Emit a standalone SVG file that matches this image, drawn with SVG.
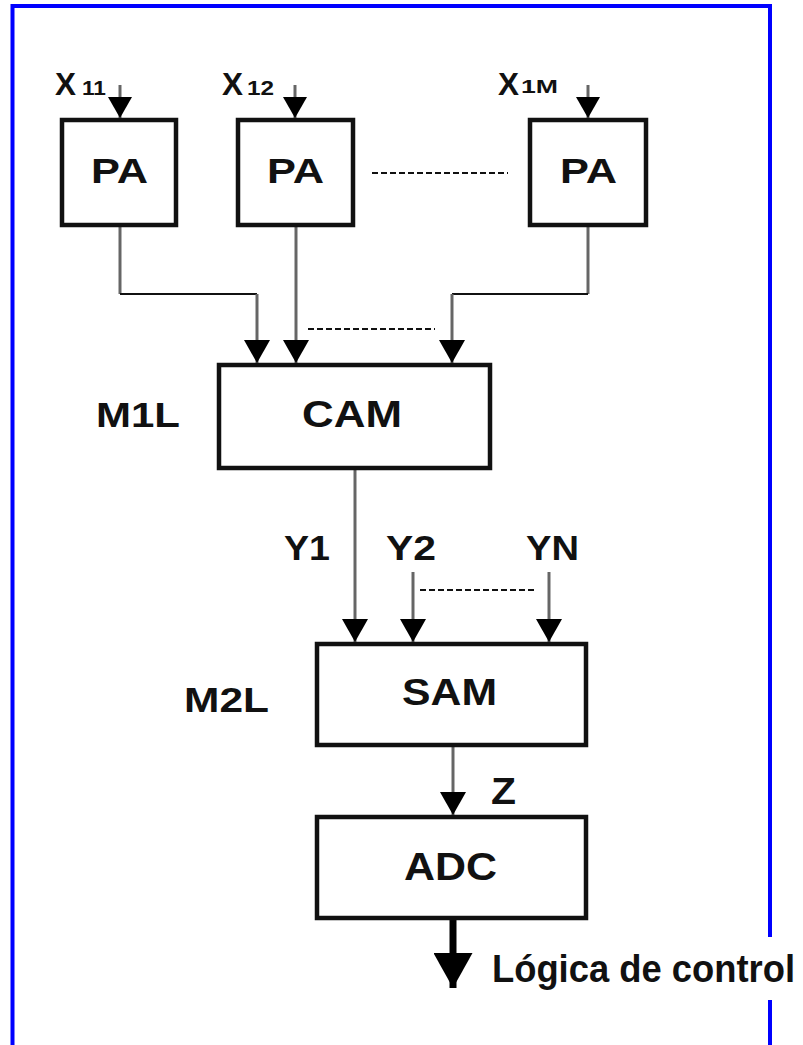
<svg xmlns="http://www.w3.org/2000/svg" width="803" height="1045" viewBox="0 0 803 1045">
  <style>
    .frame { fill: none; stroke: #0000ff; stroke-width: 4; }
    .box { fill: #ffffff; stroke: #111111; stroke-width: 4.5; }
    .lbl { font-family: "Liberation Sans", Arial, sans-serif; font-weight: bold; fill: #111111; }
    .wire { fill: none; stroke: #666666; stroke-width: 3; }
    .hwire { fill: none; stroke: #111111; stroke-width: 2; }
    .dots { fill: none; stroke: #111111; stroke-width: 2; stroke-dasharray: 6 3; }
    .thick { fill: none; stroke: #000000; stroke-width: 7; }
  </style>
  <defs>
    <marker id="head" viewBox="0 0 23 26" refX="23" refY="13" markerWidth="23" markerHeight="26" markerUnits="userSpaceOnUse" orient="auto">
      <path d="M0,0 L23,13 L0,26 z" fill="#000000"/>
    </marker>
    <marker id="headSm" viewBox="0 0 21 24" refX="21" refY="12" markerWidth="21" markerHeight="24" markerUnits="userSpaceOnUse" orient="auto">
      <path d="M0,0 L21,12 L0,24 z" fill="#000000"/>
    </marker>
    <marker id="headBig" viewBox="0 0 35 39" refX="35" refY="19.5" markerWidth="35" markerHeight="39" markerUnits="userSpaceOnUse" orient="auto">
      <path d="M0,0 L35,19.5 L0,39 z" fill="#000000"/>
    </marker>
  </defs>

  <rect width="803" height="1045" fill="#ffffff"/>

  <!-- outer frame (right side interrupted by the output label) -->
  <g id="frame">
    <path class="frame" d="M12.5,1045 L12.5,6 L770,6 L770,937"/>
    <path class="frame" d="M770,1000 L770,1045"/>
  </g>

  <!-- connectors -->
  <g id="connectors">
    <!-- inputs -->
    <line class="wire" x1="120" y1="85" x2="120" y2="118" marker-end="url(#headSm)"/>
    <line class="wire" x1="295" y1="85" x2="295" y2="118" marker-end="url(#headSm)"/>
    <line class="wire" x1="588" y1="85" x2="588" y2="118" marker-end="url(#headSm)"/>
    <!-- PA outputs to CAM -->
    <path class="wire" d="M120,227 L120,294"/>
    <path class="hwire" d="M120,294 L257,294"/>
    <line class="wire" x1="257" y1="294" x2="257" y2="363" marker-end="url(#head)"/>
    <line class="wire" x1="296" y1="227" x2="296" y2="363" marker-end="url(#head)"/>
    <path class="wire" d="M588,227 L588,294"/>
    <path class="hwire" d="M588,294 L452,294"/>
    <line class="wire" x1="452" y1="294" x2="452" y2="363" marker-end="url(#head)"/>
    <line class="dots" x1="372" y1="173" x2="508" y2="173"/>
    <line class="dots" x1="308" y1="329" x2="435" y2="329"/>
    <!-- CAM outputs to SAM -->
    <line class="wire" x1="355" y1="470" x2="355" y2="642" marker-end="url(#head)"/>
    <line class="wire" x1="413" y1="572" x2="413" y2="642" marker-end="url(#head)"/>
    <line class="wire" x1="549" y1="572" x2="549" y2="642" marker-end="url(#head)"/>
    <line class="dots" x1="420" y1="590" x2="537" y2="590"/>
    <!-- SAM to ADC -->
    <line class="wire" x1="453" y1="747" x2="453" y2="815" marker-end="url(#head)"/>
    <!-- ADC output -->
    <line class="thick" x1="453" y1="920" x2="453" y2="988" marker-end="url(#headBig)"/>
  </g>

  <!-- input labels -->
  <g id="inputs">
    <text class="lbl" x="55" y="95" font-size="31" textLength="21" lengthAdjust="spacingAndGlyphs">X</text>
    <text class="lbl" x="82" y="95" font-size="21" textLength="24" lengthAdjust="spacingAndGlyphs">11</text>
    <text class="lbl" x="222" y="95" font-size="31" textLength="21" lengthAdjust="spacingAndGlyphs">X</text>
    <text class="lbl" x="247" y="95" font-size="21" textLength="27" lengthAdjust="spacingAndGlyphs">12</text>
    <text class="lbl" x="498" y="95" font-size="31" textLength="21" lengthAdjust="spacingAndGlyphs">X</text>
    <text class="lbl" x="521" y="93" font-size="18" textLength="37" lengthAdjust="spacingAndGlyphs">1M</text>
  </g>

  <!-- preamplifiers -->
  <g id="pa1">
    <rect class="box" x="62" y="120" width="114" height="105"/>
    <text class="lbl" x="91" y="183" font-size="35" textLength="57" lengthAdjust="spacingAndGlyphs">PA</text>
  </g>
  <g id="pa2">
    <rect class="box" x="238" y="120" width="115" height="105"/>
    <text class="lbl" x="267" y="183" font-size="35" textLength="57" lengthAdjust="spacingAndGlyphs">PA</text>
  </g>
  <g id="pa3">
    <rect class="box" x="530" y="120" width="116" height="105"/>
    <text class="lbl" x="560" y="183" font-size="35" textLength="57" lengthAdjust="spacingAndGlyphs">PA</text>
  </g>

  <!-- first level multiplexer -->
  <g id="cam">
    <rect class="box" x="219" y="365" width="271" height="103"/>
    <text class="lbl" x="302" y="427" font-size="37" textLength="100" lengthAdjust="spacingAndGlyphs">CAM</text>
  </g>
  <g id="m1l">
    <text class="lbl" x="96" y="427" font-size="35" textLength="84" lengthAdjust="spacingAndGlyphs">M1L</text>
  </g>

  <!-- channel labels -->
  <g id="ylabels">
    <text class="lbl" x="284" y="560" font-size="35" textLength="46" lengthAdjust="spacingAndGlyphs">Y1</text>
    <text class="lbl" x="386" y="560" font-size="35" textLength="50" lengthAdjust="spacingAndGlyphs">Y2</text>
    <text class="lbl" x="526" y="560" font-size="35" textLength="53" lengthAdjust="spacingAndGlyphs">YN</text>
  </g>

  <!-- second level multiplexer -->
  <g id="sam">
    <rect class="box" x="317" y="644" width="269" height="101"/>
    <text class="lbl" x="402" y="705" font-size="37" textLength="95" lengthAdjust="spacingAndGlyphs">SAM</text>
  </g>
  <g id="m2l">
    <text class="lbl" x="184" y="712" font-size="35" textLength="85" lengthAdjust="spacingAndGlyphs">M2L</text>
  </g>

  <g id="zlabel">
    <text class="lbl" x="491" y="804" font-size="37" textLength="25" lengthAdjust="spacingAndGlyphs">Z</text>
  </g>

  <!-- converter -->
  <g id="adc">
    <rect class="box" x="317" y="817" width="269" height="101"/>
    <text class="lbl" x="404" y="880" font-size="38" textLength="93" lengthAdjust="spacingAndGlyphs">ADC</text>
  </g>

  <g id="output">
    <text class="lbl" x="492" y="982" font-size="38" textLength="303" lengthAdjust="spacingAndGlyphs">Lógica de control</text>
  </g>
</svg>
